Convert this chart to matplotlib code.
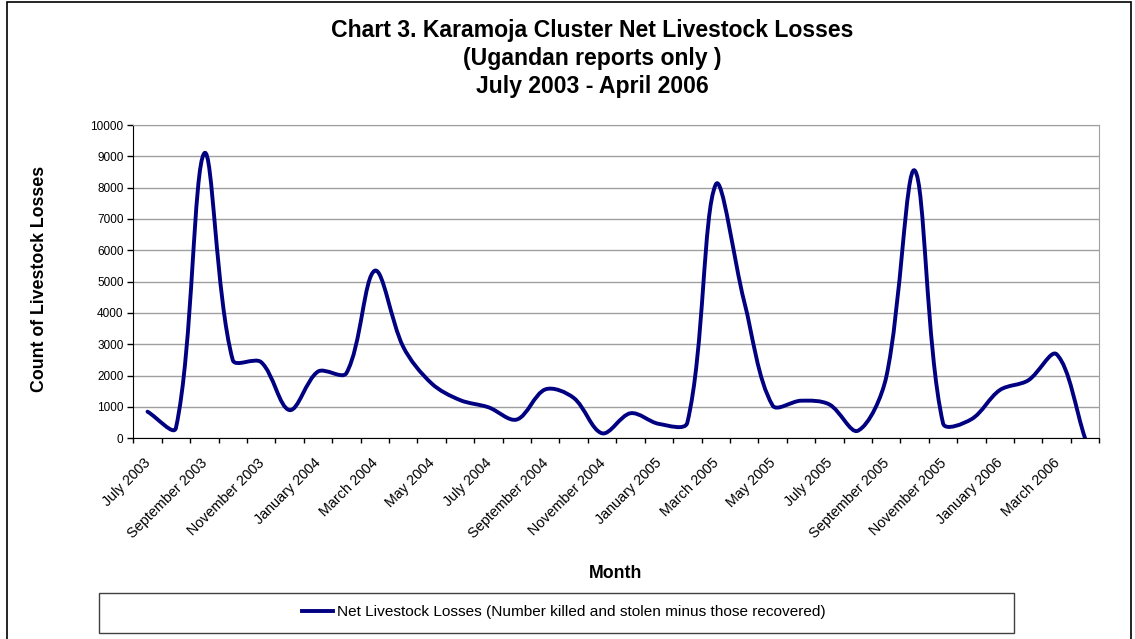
import matplotlib
matplotlib.use("Agg")
import matplotlib.pyplot as plt
from matplotlib.path import Path
from matplotlib.patches import PathPatch, Rectangle
from matplotlib.lines import Line2D
from matplotlib.transforms import ScaledTranslation
import numpy as np

months = ["July 2003", "August 2003", "September 2003", "October 2003", "November 2003",
          "December 2003", "January 2004", "February 2004", "March 2004", "April 2004",
          "May 2004", "June 2004", "July 2004", "August 2004", "September 2004",
          "October 2004", "November 2004", "December 2004", "January 2005", "February 2005",
          "March 2005", "April 2005", "May 2005", "June 2005", "July 2005", "August 2005",
          "September 2005", "October 2005", "November 2005", "December 2005",
          "January 2006", "February 2006", "March 2006", "April 2006"]
losses = [850, 330, 9100, 2500, 2430, 900, 2130, 2080, 5350, 2920, 1750, 1220, 990, 600,
          1560, 1290, 160, 800, 460, 500, 8100, 4370, 1050, 1200, 1080, 240, 1950, 8550,
          480, 610, 1540, 1850, 2680, 0]
yticks = [0, 1000, 2000, 3000, 4000, 5000, 6000, 7000, 8000, 9000, 10000]

title_lines = ["Chart 3. Karamoja Cluster Net Livestock Losses",
               "(Ugandan reports only )",
               "July 2003 - April 2006"]
series_name = "Net Livestock Losses (Number killed and stolen minus those recovered)"

plt.rcParams['font.family'] = ['Liberation Sans', 'DejaVu Sans']
W, H = 1135, 639
fig = plt.figure(figsize=(W / 100, H / 100), dpi=100)


def fx(px):
    return px / W


def fy(py):
    return 1 - py / H


ax = fig.add_axes([fx(133.3), fy(438.3), fx(1099.3) - fx(133.3), fy(125) - fy(438.3)])
ax.set_xlim(-0.5, len(losses) - 0.5)
ax.set_ylim(0, 10000)

# Excel-style smoothed line: Bezier through the monthly points, control points
# scaled by on-screen segment lengths (limits overshoot)
x = np.arange(len(losses), dtype=float)
y = np.array(losses, dtype=float)
pts = np.column_stack([x, y])
pix = ax.transData.transform(pts)
ext = np.vstack([pts[0], pts, pts[-1]])
extp = np.vstack([pix[0], pix, pix[-1]])
verts = [tuple(pts[0])]
codes = [Path.MOVETO]
for i in range(len(pts) - 1):
    p0, p1, p2, p3 = ext[i], ext[i + 1], ext[i + 2], ext[i + 3]
    q0, q1, q2, q3 = extp[i], extp[i + 1], extp[i + 2], extp[i + 3]
    d01 = np.hypot(*(q1 - q0))
    d12 = np.hypot(*(q2 - q1))
    d23 = np.hypot(*(q3 - q2))
    f1 = d12 / (d01 + d12) / 3.0
    f2 = d12 / (d12 + d23) / 3.0
    c1 = p1 + (p2 - p0) * f1
    c2 = p2 - (p3 - p1) * f2
    verts += [tuple(c1), tuple(c2), tuple(p2)]
    codes += [Path.CURVE4] * 3
navy = "#000080"
patch = PathPatch(Path(verts, codes), facecolor="none", edgecolor=navy, lw=2.8,
                  joinstyle="round", capstyle="round", transform=ax.transData, zorder=3)
ax.add_patch(patch)

ax.set_yticks(yticks)
ax.set_yticklabels([str(v) for v in yticks], fontsize=8.5)
ax.yaxis.grid(True, color="#a0a0a0", lw=1.0)
ax.set_axisbelow(True)

ax.set_xticks(np.arange(-0.5, len(losses), 1.0), minor=True)
ax.set_xticks(x[::2])
ax.set_xticklabels(months[::2], rotation=45, ha="right", va="top",
                   rotation_mode="anchor", fontsize=10.4)
ax.tick_params(axis="x", which="major", length=0, pad=12.5)
ax.tick_params(axis="x", which="minor", length=3.5, width=1, color="black", direction="out")
ax.tick_params(axis="y", length=4, width=1, direction="out", pad=3)
shift = ScaledTranslation(-4 / 100, 0, fig.dpi_scale_trans)
for lab in ax.get_xticklabels():
    lab.set_transform(lab.get_transform() + shift)

for s in ["top", "right"]:
    ax.spines[s].set_color("#a0a0a0")
for s in ["left", "bottom"]:
    ax.spines[s].set_color("black")

fig.text(fx(40), fy(279), "Count of Livestock Losses", rotation=90, ha="center", va="center",
         fontsize=12.8, fontweight="bold")
fig.text(fx(616), fy(573), "Month", ha="center", va="center", fontsize=12.8, fontweight="bold")

for t, yy in zip(title_lines, [31, 59, 87]):
    fig.text(fx(592), fy(yy), t, ha="center", va="center", fontsize=16.6, fontweight="bold")

# legend box
fig.patches.append(Rectangle((fx(99), fy(633)), fx(1014) - fx(99), fy(592.5) - fy(633),
                             transform=fig.transFigure, facecolor="white",
                             edgecolor="#404040", lw=1.0))
handle = Line2D([], [], color=navy, lw=2.8)
fig.legend([handle], [series_name], loc="center", bbox_to_anchor=(fx(564), fy(612)),
           frameon=False, fontsize=11.1, handlelength=2.0, handletextpad=0.3)

# outer chart frame
fig.patches.append(Rectangle((fx(7), fy(645)), fx(1131) - fx(7), fy(2) - fy(645),
                             transform=fig.transFigure, facecolor="none",
                             edgecolor="black", lw=1.2))

fig.savefig("out.png", dpi=100)
